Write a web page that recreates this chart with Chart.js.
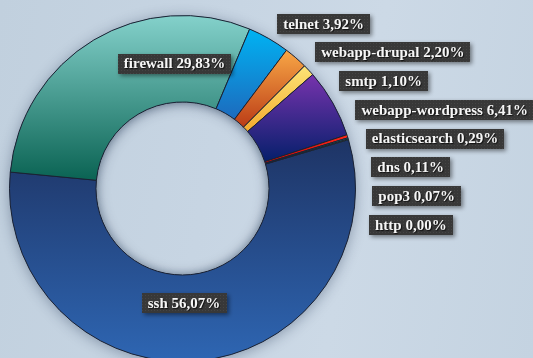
<!DOCTYPE html>
<html><head><meta charset="utf-8">
<script src="https://cdn.jsdelivr.net/npm/chart.js@4/dist/chart.umd.min.js"></script>
<style>
html,body{margin:0;padding:0;overflow:hidden;width:533px;height:358px;}
body{background:linear-gradient(100deg,#c1d0de 0%,#c7d5e3 40%,#ccd9e6 65%,#c4d3e1 100%);}
canvas{display:block}
</style></head><body>
<canvas id="c" width="533" height="358"></canvas>
<script>
const categories = ['ssh','firewall','telnet','webapp-drupal','smtp','webapp-wordpress','elasticsearch','dns','pop3','http'];
const shares = [56.07, 29.83, 3.92, 2.20, 1.10, 6.41, 0.29, 0.11, 0.07, 0.00];
const topColors = ['#1e3465','#84d1cb','#00b3f3','#f8a746','#fde476','#7733ad','#ff2a1a','#2aa0a0','#5ab55a','#888888'];
const bottomColors = ['#2e66b3','#0a6353','#1d6abd','#bb3c16','#f3aa2e','#051f6b','#d00000','#1a7070','#2a7a2a','#555555'];
const ROTATION = 73.6;

const fmt = v => v.toFixed(2).replace('.', ',') + '%';
const total = shares.reduce((a, b) => a + b, 0);

function sliceAngles(i) {
  let a1 = (ROTATION - 90) * Math.PI / 180;
  for (let k = 0; k < i; k++) a1 += shares[k] / total * 2 * Math.PI;
  return [a1, a1 + shares[i] / total * 2 * Math.PI];
}
function contains(a1, a2, t) {
  for (let m = -2; m <= 2; m++) { const tt = t + m * 2 * Math.PI; if (tt >= a1 && tt <= a2) return true; }
  return false;
}
function sliceGradient(c) {
  const chart = c.chart, ca = chart.chartArea, i = c.dataIndex;
  if (i === undefined) return topColors[0];
  if (!ca) return topColors[i];
  const ctrl = chart.getDatasetMeta(0).controller;
  const ro = ctrl.outerRadius, ri = ctrl.innerRadius;
  if (!ro) return topColors[i];
  const cy = (ca.top + ca.bottom) / 2 + (ctrl.offsetY || 0);
  const [a1, a2] = sliceAngles(i);
  const ys = [cy + ri * Math.sin(a1), cy + ro * Math.sin(a1), cy + ri * Math.sin(a2), cy + ro * Math.sin(a2)];
  if (contains(a1, a2, Math.PI / 2)) ys.push(cy + ro);
  if (contains(a1, a2, -Math.PI / 2)) ys.push(cy - ro);
  const y0 = Math.min(...ys), y1 = Math.max(...ys);
  const g = chart.ctx.createLinearGradient(0, y0, 0, Math.max(y1, y0 + 1));
  g.addColorStop(0, topColors[i]);
  g.addColorStop(1, bottomColors[i]);
  return g;
}

const ringShadow = {
  id: 'ringShadow',
  beforeDatasetsDraw(chart) {
    const arc = chart.getDatasetMeta(0).data[0];
    if (!arc) return;
    const {x, y, outerRadius, innerRadius} = arc;
    const ctx = chart.ctx;
    ctx.save();
    ctx.shadowColor = 'rgba(20,40,70,0.38)';
    ctx.shadowBlur = 14;
    ctx.shadowOffsetY = 2;
    ctx.beginPath();
    ctx.arc(x, y, outerRadius, 0, 2 * Math.PI);
    ctx.arc(x, y, innerRadius, 0, 2 * Math.PI, true);
    ctx.fillStyle = '#2a4a7a';
    ctx.fill();
    ctx.restore();
  },
  afterDatasetsDraw(chart) {
    const arc = chart.getDatasetMeta(0).data[0];
    if (!arc) return;
    const {x, y, innerRadius} = arc;
    const ctx = chart.ctx;
    ctx.save();
    ctx.beginPath();
    ctx.arc(x, y, innerRadius - 0.5, 0, 2 * Math.PI);
    ctx.clip();
    ctx.beginPath();
    ctx.arc(x, y, innerRadius + 10, 0, 2 * Math.PI);
    ctx.lineWidth = 20;
    ctx.strokeStyle = '#000';
    ctx.shadowColor = 'rgba(10,25,50,0.35)';
    ctx.shadowBlur = 8;
    ctx.stroke();
    ctx.restore();
  }
};

function makePattern(ctx) {
  const p = document.createElement('canvas');
  p.width = 3; p.height = 3;
  const pc = p.getContext('2d');
  pc.fillStyle = '#383838'; pc.fillRect(0, 0, 3, 3);
  pc.fillStyle = '#454545'; pc.fillRect(1, 1, 1, 1);
  return ctx.createPattern(p, 'repeat');
}

const labelBoxes = {
  id: 'labelBoxes',
  afterDatasetsDraw(chart) {
    const meta = chart.getDatasetMeta(0);
    const ctx = chart.ctx;
    const arc0 = meta.data[0];
    const cx = arc0.x, cy = arc0.y, ro = arc0.outerRadius, ri = arc0.innerRadius;
    const font = 'bold 15px "Liberation Serif", "DejaVu Serif", serif';
    const boxH = 20, padX = 6, gap = 28.7, Rout = ro + 17;
    const pattern = makePattern(ctx);
    const drawBox = (text, left, yc) => {
      ctx.font = font;
      const w = ctx.measureText(text).width + padX * 2;
      ctx.save();
      ctx.shadowColor = 'rgba(0,0,0,0.45)';
      ctx.shadowBlur = 4; ctx.shadowOffsetX = 2; ctx.shadowOffsetY = 2;
      ctx.fillStyle = pattern;
      ctx.fillRect(Math.round(left), Math.round(yc - boxH / 2), Math.round(w), boxH);
      ctx.restore();
      ctx.save();
      ctx.font = font;
      ctx.fillStyle = '#f6f6f6';
      ctx.textBaseline = 'middle';
      ctx.shadowColor = 'rgba(0,0,0,0.7)';
      ctx.shadowBlur = 1; ctx.shadowOffsetX = 1; ctx.shadowOffsetY = 1;
      ctx.fillText(text, left + padX, yc + 1);
      ctx.restore();
    };
    let prevY = -Infinity;
    meta.data.forEach((arc, i) => {
      const text = categories[i] + ' ' + fmt(shares[i]);
      const a1 = arc.startAngle, a2 = arc.endAngle, mid = (a1 + a2) / 2;
      if (shares[i] >= 10) {
        let dir = Math.sin(mid) >= 0 ? 1 : -1;
        if (contains(a1, a2, Math.PI / 2)) dir = 1;
        else if (contains(a1, a2, -Math.PI / 2)) dir = -1;
        const r = ri + (dir > 0 ? 0.32 : 0.445) * (ro - ri);
        ctx.font = font;
        const w = ctx.measureText(text).width + padX * 2;
        drawBox(text, cx + 0.09 * ro * Math.cos(mid) - w / 2, cy + dir * r);
      } else {
        let yc = cy + Rout * Math.sin(mid);
        yc = Math.max(yc, prevY + gap);
        prevY = yc;
        const dy = yc - cy;
        const circleX = cx + Math.sqrt(Math.max(0, Rout * Rout - dy * dy));
        drawBox(text, circleX, yc);
      }
    });
  }
};

new Chart(document.getElementById('c'), {
  type: 'doughnut',
  data: {
    labels: categories,
    datasets: [{
      data: shares,
      backgroundColor: sliceGradient,
      borderColor: '#1b2233',
      borderWidth: 1,
      radius: 173
    }]
  },
  options: {
    responsive: false,
    animation: false,
    rotation: ROTATION,
    cutout: '50%',
    layout: {padding: {left: 0, right: 168, top: 19, bottom: 0}},
    plugins: {legend: {display: false}, tooltip: {enabled: false}}
  },
  plugins: [ringShadow, labelBoxes]
});
</script>
</body></html>
